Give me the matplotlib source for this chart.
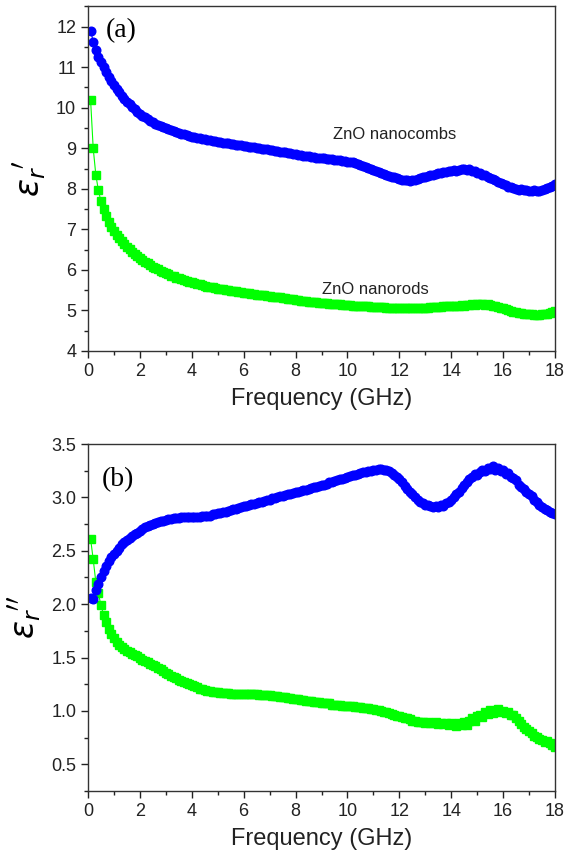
import numpy as np
import matplotlib
matplotlib.use("Agg")
import matplotlib.pyplot as plt
from matplotlib.ticker import MultipleLocator

plt.rcParams["font.family"] = ["Liberation Sans", "DejaVu Sans"]
plt.rcParams["mathtext.fontset"] = "dejavusans"

# frequency grid (GHz), 0.1 .. 18.0
freq = np.round(np.arange(1, 181) * 0.1, 1)

# real part, ZnO nanocombs
eps1_combs = [
    11.90, 11.63, 11.43, 11.25, 11.12, 11.00, 10.88, 10.76, 10.65, 10.55,
    10.46, 10.38, 10.30, 10.22, 10.15, 10.08, 10.02, 9.96, 9.90, 9.85,
    9.80, 9.76, 9.72, 9.68, 9.65, 9.61, 9.58, 9.55, 9.52, 9.50,
    9.47, 9.45, 9.43, 9.41, 9.38, 9.36, 9.34, 9.32, 9.30, 9.29,
    9.27, 9.26, 9.25, 9.24, 9.22, 9.21, 9.20, 9.19, 9.18, 9.16,
    9.15, 9.14, 9.13, 9.12, 9.11, 9.10, 9.09, 9.08, 9.07, 9.06,
    9.05, 9.04, 9.03, 9.02, 9.01, 9.00, 8.99, 8.98, 8.97, 8.96,
    8.95, 8.94, 8.93, 8.92, 8.91, 8.90, 8.89, 8.88, 8.86, 8.85,
    8.84, 8.83, 8.82, 8.81, 8.80, 8.79, 8.78, 8.77, 8.77, 8.76,
    8.75, 8.74, 8.73, 8.73, 8.72, 8.71, 8.70, 8.69, 8.68, 8.67,
    8.66, 8.65, 8.63, 8.61, 8.59, 8.57, 8.55, 8.52, 8.50, 8.47,
    8.44, 8.42, 8.39, 8.37, 8.34, 8.32, 8.30, 8.28, 8.26, 8.24,
    8.22, 8.21, 8.21, 8.20, 8.21, 8.22, 8.24, 8.26, 8.28, 8.30,
    8.31, 8.33, 8.35, 8.37, 8.39, 8.40, 8.42, 8.41, 8.44, 8.44,
    8.46, 8.45, 8.47, 8.49, 8.48, 8.46, 8.48, 8.45, 8.43, 8.40,
    8.38, 8.35, 8.33, 8.29, 8.27, 8.23, 8.21, 8.17, 8.14, 8.11,
    8.09, 8.05, 8.04, 8.01, 8.00, 7.98, 7.99, 7.96, 7.97, 7.95,
    7.94, 7.96, 7.94, 7.95, 7.97, 7.99, 8.01, 8.04, 8.07, 8.12,
]

# real part, ZnO nanorods
eps1_rods = [
    10.18, 9.00, 8.35, 7.96, 7.69, 7.49, 7.33, 7.19, 7.07, 6.96,
    6.87, 6.79, 6.71, 6.64, 6.57, 6.51, 6.45, 6.39, 6.34, 6.29,
    6.24, 6.20, 6.16, 6.12, 6.08, 6.04, 6.01, 5.98, 5.95, 5.92,
    5.89, 5.86, 5.84, 5.81, 5.79, 5.77, 5.75, 5.73, 5.71, 5.69,
    5.67, 5.65, 5.64, 5.62, 5.61, 5.59, 5.58, 5.57, 5.55, 5.54,
    5.53, 5.52, 5.51, 5.50, 5.49, 5.48, 5.47, 5.46, 5.45, 5.44,
    5.43, 5.42, 5.41, 5.40, 5.39, 5.38, 5.38, 5.37, 5.36, 5.35,
    5.34, 5.33, 5.32, 5.32, 5.31, 5.30, 5.29, 5.28, 5.27, 5.26,
    5.25, 5.24, 5.23, 5.23, 5.22, 5.21, 5.21, 5.20, 5.19, 5.19,
    5.18, 5.18, 5.17, 5.16, 5.16, 5.15, 5.15, 5.14, 5.14, 5.13,
    5.13, 5.12, 5.12, 5.11, 5.11, 5.10, 5.10, 5.10, 5.09, 5.09,
    5.09, 5.08, 5.08, 5.08, 5.07, 5.07, 5.07, 5.07, 5.06, 5.06,
    5.06, 5.06, 5.06, 5.06, 5.06, 5.06, 5.06, 5.07, 5.07, 5.07,
    5.07, 5.08, 5.08, 5.08, 5.09, 5.09, 5.10, 5.10, 5.10, 5.11,
    5.11, 5.12, 5.11, 5.13, 5.12, 5.14, 5.13, 5.15, 5.14, 5.16,
    5.15, 5.16, 5.14, 5.15, 5.13, 5.12, 5.11, 5.09, 5.07, 5.05,
    5.03, 5.01, 4.99, 4.97, 4.96, 4.94, 4.93, 4.92, 4.91, 4.90,
    4.90, 4.89, 4.89, 4.89, 4.90, 4.91, 4.92, 4.94, 4.96, 4.98,
]

# imaginary part, ZnO nanocombs
eps2_combs = [
    2.06, 2.05, 2.13, 2.19, 2.25, 2.31, 2.36, 2.40, 2.44, 2.47,
    2.50, 2.53, 2.56, 2.58, 2.60, 2.62, 2.64, 2.66, 2.67, 2.69,
    2.70, 2.72, 2.73, 2.74, 2.75, 2.76, 2.77, 2.78, 2.78, 2.79,
    2.80, 2.80, 2.81, 2.81, 2.81, 2.82, 2.82, 2.82, 2.82, 2.82,
    2.82, 2.82, 2.82, 2.83, 2.83, 2.83, 2.83, 2.84, 2.84, 2.85,
    2.85, 2.86, 2.86, 2.87, 2.88, 2.89, 2.89, 2.90, 2.91, 2.92,
    2.92, 2.93, 2.94, 2.94, 2.95, 2.96, 2.96, 2.97, 2.98, 2.98,
    2.99, 2.99, 3.00, 3.01, 3.01, 3.02, 3.03, 3.03, 3.04, 3.05,
    3.05, 3.06, 3.07, 3.07, 3.08, 3.09, 3.10, 3.10, 3.11, 3.12,
    3.12, 3.13, 3.14, 3.14, 3.15, 3.16, 3.17, 3.17, 3.18, 3.19,
    3.20, 3.21, 3.21, 3.22, 3.23, 3.24, 3.24, 3.25, 3.25, 3.26,
    3.26, 3.27, 3.27, 3.26, 3.26, 3.25, 3.23, 3.21, 3.19, 3.17,
    3.14, 3.11, 3.08, 3.05, 3.03, 3.00, 2.98, 2.96, 2.95, 2.93,
    2.93, 2.92, 2.91, 2.92, 2.91, 2.93, 2.92, 2.95, 2.96, 2.98,
    3.00, 3.03, 3.05, 3.09, 3.12, 3.14, 3.17, 3.19, 3.22, 3.21,
    3.24, 3.26, 3.25, 3.28, 3.27, 3.29, 3.26, 3.28, 3.25, 3.26,
    3.22, 3.23, 3.19, 3.18, 3.16, 3.12, 3.10, 3.08, 3.05, 3.03,
    3.01, 2.98, 2.96, 2.93, 2.91, 2.89, 2.88, 2.86, 2.85, 2.84,
]

# imaginary part, ZnO nanorods
eps2_rods = [
    2.61, 2.42, 2.21, 2.10, 1.99, 1.90, 1.83, 1.77, 1.72, 1.68,
    1.65, 1.62, 1.60, 1.58, 1.56, 1.55, 1.53, 1.52, 1.51, 1.50,
    1.48, 1.47, 1.46, 1.44, 1.43, 1.42, 1.40, 1.39, 1.37, 1.36,
    1.35, 1.33, 1.32, 1.31, 1.29, 1.28, 1.27, 1.26, 1.25, 1.24,
    1.23, 1.22, 1.21, 1.21, 1.20, 1.19, 1.19, 1.18, 1.18, 1.18,
    1.17, 1.17, 1.17, 1.17, 1.16, 1.16, 1.16, 1.16, 1.16, 1.16,
    1.16, 1.16, 1.16, 1.16, 1.16, 1.15, 1.15, 1.15, 1.15, 1.15,
    1.14, 1.14, 1.14, 1.13, 1.13, 1.13, 1.12, 1.12, 1.11, 1.11,
    1.11, 1.10, 1.10, 1.09, 1.09, 1.09, 1.08, 1.08, 1.08, 1.07,
    1.07, 1.07, 1.07, 1.06, 1.06, 1.06, 1.06, 1.05, 1.05, 1.05,
    1.05, 1.05, 1.04, 1.04, 1.04, 1.03, 1.03, 1.03, 1.02, 1.02,
    1.01, 1.01, 1.00, 0.99, 0.99, 0.98, 0.97, 0.96, 0.95, 0.95,
    0.94, 0.93, 0.93, 0.92, 0.91, 0.91, 0.90, 0.90, 0.90, 0.89,
    0.90, 0.89, 0.89, 0.90, 0.88, 0.89, 0.88, 0.89, 0.87, 0.89,
    0.88, 0.86, 0.89, 0.87, 0.90, 0.87, 0.91, 0.93, 0.91, 0.95,
    0.96, 0.94, 0.99, 0.97, 1.01, 0.98, 1.00, 1.02, 0.99, 1.00,
    0.98, 0.99, 0.96, 0.96, 0.93, 0.91, 0.88, 0.85, 0.83, 0.81,
    0.79, 0.77, 0.76, 0.74, 0.73, 0.71, 0.72, 0.70, 0.68, 0.66,
]

BLUE = "#0000ff"
GREEN = "#00ff00"

fig = plt.figure(figsize=(5.73, 8.6), dpi=100)
ax1 = fig.add_axes([0.1536, 0.5919, 0.815, 0.4007])
ax2 = fig.add_axes([0.1536, 0.0802, 0.815, 0.4035])


def style_axis(ax, ylim, major, minor):
    ax.set_xlim(0, 18)
    ax.set_ylim(*ylim)
    ax.xaxis.set_major_locator(MultipleLocator(2))
    ax.xaxis.set_minor_locator(MultipleLocator(1))
    ax.yaxis.set_major_locator(MultipleLocator(major))
    ax.yaxis.set_minor_locator(MultipleLocator(minor))
    ax.tick_params(which="both", direction="out", top=False, right=False,
                   labelsize=13, color="#222222", labelcolor="#222222")
    ax.tick_params(which="major", length=5, width=1)
    ax.tick_params(which="minor", length=3, width=1)
    for sp in ax.spines.values():
        sp.set_color("#333333")
        sp.set_linewidth(1.0)
    ax.set_xlabel("Frequency (GHz)", fontsize=17, color="#222222", labelpad=6)


# (a) real permittivity
ax1.plot(freq, eps1_rods, "-s", color=GREEN, ms=5.2, lw=0.8, mec=GREEN)
ax1.plot(freq, eps1_combs, "-o", color=BLUE, ms=6.2, lw=0.8, mec=BLUE)
style_axis(ax1, (4, 12.5), 1, 0.5)
ax1.set_ylabel(r"$\varepsilon_r{}'$", fontsize=24, labelpad=6)
ax1.text(0.7, 11.9, "(a)", fontsize=20, family="Liberation Serif", va="center")
ax1.text(9.45, 9.33, "ZnO nanocombs", fontsize=12, va="center", color="#222222")
ax1.text(9.02, 5.51, "ZnO nanorods", fontsize=12, va="center", color="#222222")

# (b) imaginary permittivity
ax2.plot(freq, eps2_rods, "-s", color=GREEN, ms=5.2, lw=0.8, mec=GREEN)
ax2.plot(freq, eps2_combs, "-o", color=BLUE, ms=6.2, lw=0.8, mec=BLUE)
style_axis(ax2, (0.25, 3.5), 0.5, 0.25)
ax2.set_ylabel(r"$\varepsilon_r{}''$", fontsize=24, labelpad=6)
ax2.text(0.53, 3.17, "(b)", fontsize=20, family="Liberation Serif", va="center")

fig.savefig("out.png", dpi=100)
